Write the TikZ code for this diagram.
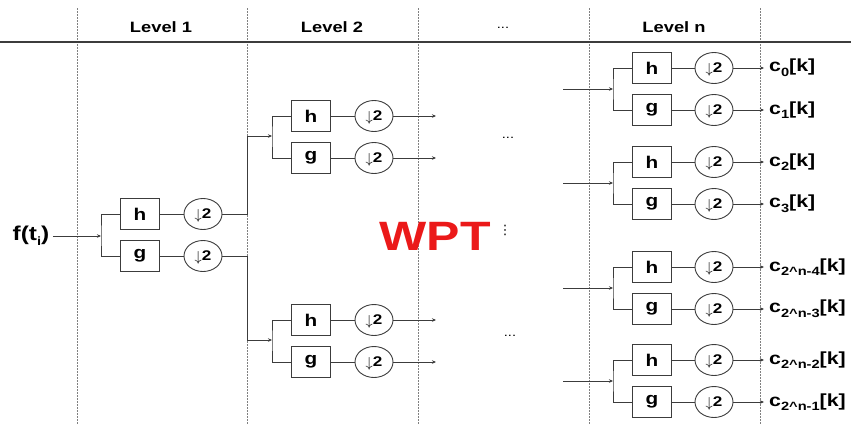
\documentclass[tikz,border=0pt]{standalone}
\usepackage{fontspec}
\setmainfont{Liberation Sans}[FakeStretch=1.22]
\newfontfamily\symbole{DejaVu Sans}
\usepackage{tikz}
\usetikzlibrary{arrows.meta, positioning, shapes.geometric, calc}
\definecolor{wptrouge}{RGB}{235,25,25}
\definecolor{wptgris}{RGB}{60,60,60}
\newcommand{\indice}[1]{\raisebox{-0.5ex}{\fontsize{12}{12}\selectfont #1}}
\newcommand{\bas}{\raisebox{-0.5pt}[0pt][0pt]{$\downarrow$}2}

\tikzset{
  filtre/.style={rectangle, draw=wptgris, line width=1.1pt, minimum width=39pt,
                 minimum height=31pt, inner sep=0pt, font=\fontsize{17}{17}\selectfont\bfseries},
  decim/.style={ellipse, draw=wptgris, line width=0.9pt, minimum width=38pt,
                minimum height=31pt, inner sep=0pt, font=\fontsize{14}{14}\selectfont\bfseries},
  fil/.style={draw=wptgris, line width=0.9pt},
  fleche/.style={fil, -{Stealth[length=4pt, width=3.5pt]}},
  pointille/.style={draw=gray, line width=0.7pt, dash pattern=on 1.5pt off 1.5pt},
  titre/.style={font=\fontsize{15}{15}\selectfont\bfseries},
  sortie/.style={anchor=west, inner xsep=5pt, inner ysep=0pt, font=\fontsize{17.5}{17.5}\selectfont\bfseries}
}

\begin{document}
\begin{tikzpicture}[x=1pt, y=-1pt]
  \useasboundingbox (0,0) rectangle (851,424);
  % grille et titres
  \foreach \x in {77,247,418,589,760} \draw[pointille] (\x,8) -- (\x,424);
  \draw[wptgris, line width=1.3pt] (0,42) -- (851,42);
  \node[titre] (niv1) at (161,27) {Level 1};
  \node[titre] (niv2) at (332,27) {Level 2};
  \node[font=\fontsize{12}{12}\selectfont] (nivp) at (503,28) {...};
  \node[titre] (nivn) at (674,27) {Level n};

  % niveau 1
  \node[font=\fontsize{20}{20}\selectfont\bfseries] (f) at (31,236) {f(t\indice{i})};
  \coordinate (j1) at (101,236);
  \node[filtre] (h1) at (140,214) {h};
  \node[filtre] (g1) at (140,256) {g};
  \node[decim] (d1h) at (203,214) {\bas};
  \node[decim] (d1g) at (203,256) {\bas};
  \draw[fleche] (f) -- (j1);
  \draw[fil] (h1) -| (j1) |- (g1);
  \draw[fil] (h1) -- (d1h);
  \draw[fil] (g1) -- (d1g);

  % niveau 2
  \coordinate (k2) at (247,136);
  \coordinate (k3) at (247,340);
  \coordinate (j2) at (272,136);
  \coordinate (j3) at (272,340);
  \draw[fleche] (d1h) -| (k2) -- (j2);
  \draw[fleche] (d1g) -| (k3) -- (j3);
  \node[filtre] (h2) at (311,116) {h};
  \node[filtre] (g2) at (311,158) {g};
  \node[decim] (d2h) at (374,116) {\bas};
  \node[decim] (d2g) at (374,158) {\bas};
  \node[filtre] (h3) at (311,320) {h};
  \node[filtre] (g3) at (311,362) {g};
  \node[decim] (d3h) at (374,320) {\bas};
  \node[decim] (d3g) at (374,362) {\bas};
  \draw[fil] (h2) -| (j2) |- (g2);
  \draw[fil] (h3) -| (j3) |- (g3);
  \draw[fil] (h2) -- (d2h);
  \draw[fil] (g2) -- (d2g);
  \draw[fil] (h3) -- (d3h);
  \draw[fil] (g3) -- (d3g);
  \coordinate (o2h) at (436,116);
  \coordinate (o2g) at (436,158);
  \coordinate (o3h) at (436,320);
  \coordinate (o3g) at (436,362);
  \draw[fleche] (d2h) -- (o2h);
  \draw[fleche] (d2g) -- (o2g);
  \draw[fleche] (d3h) -- (o3h);
  \draw[fleche] (d3g) -- (o3g);

  % milieu
  \node[font=\fontsize{12}{12}\selectfont] (pts1) at (508,138) {...};
  \node[font=\fontsize{12}{12}\selectfont] (pts2) at (510,336) {...};
  \node[text=wptrouge, font=\fontsize{41}{41}\selectfont\bfseries] (wpt) at (435,236) {WPT};
  \node[font=\fontsize{13}{13}\selectfont\symbole] (vpts) at (505,230) {⋮};

  % niveau n
  \foreach \i/\y/\a/\b in {1/89/0/1, 2/183/2/3,
      3/288/{2\textasciicircum n-4}/{2\textasciicircum n-3},
      4/381/{2\textasciicircum n-2}/{2\textasciicircum n-1}} {
    \coordinate (e\i) at (563,\y);
    \coordinate (jn\i) at (613,\y);
    \node[filtre] (hn\i) at (652,\y-21) {h};
    \node[filtre] (gn\i) at (652,\y+21) {g};
    \node[decim] (dnh\i) at (714,\y-21) {\bas};
    \node[decim] (dng\i) at (714,\y+21) {\bas};
    \node[sortie] (ch\i) at (764,\y-21) {c\indice{\a}[k]};
    \node[sortie] (cg\i) at (764,\y+21) {c\indice{\b}[k]};
    \draw[fleche] (e\i) -- (jn\i);
    \draw[fil] (hn\i) -| (jn\i) |- (gn\i);
    \draw[fil] (hn\i) -- (dnh\i);
    \draw[fil] (gn\i) -- (dng\i);
    \draw[fleche] (dnh\i) -- (ch\i);
    \draw[fleche] (dng\i) -- (cg\i);
  }
\end{tikzpicture}
\end{document}
